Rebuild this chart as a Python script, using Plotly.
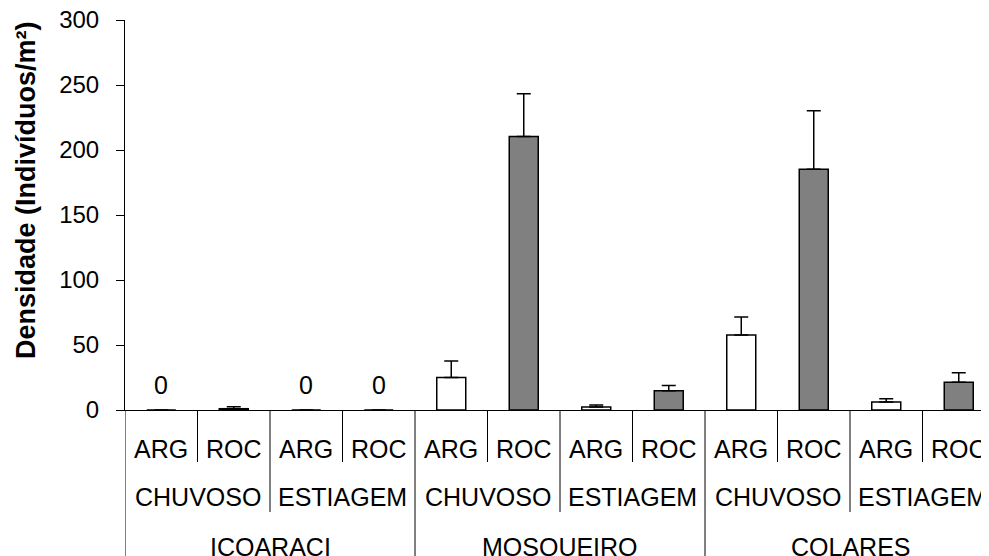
import plotly.graph_objects as go

sites = ["ICOARACI", "MOSQUEIRO", "COLARES"]
seasons = ["CHUVOSO", "ESTIAGEM"]
substrates = ["ARG", "ROC"]

# order: (ICOARACI,CHUVOSO),(ICOARACI,ESTIAGEM),(MOSQUEIRO,CHUVOSO),...
arg_values = [0, 0, 25, 2.3, 57.7, 6.2]
arg_err = [0, 0, 12.7, 1.5, 13.8, 2.5]
roc_values = [1, 0, 210.3, 14.9, 185.1, 21.3]
roc_err = [1.5, 0, 33, 4, 45, 7.4]

y_ticks = [0, 50, 100, 150, 200, 250, 300]
y_title = "Densidade (Indivíduos/m²)"

FONT = "Liberation Sans, Arial, sans-serif"
OFF = 8  # default page body margin
PAGE_W, PAGE_H = 989, 556
W, H = PAGE_W - OFF, PAGE_H - OFF
# plot area in page pixels: left 125, top 20, bottom 410, right 989
ML, MR, MT, MB = 125 - OFF, 0, 20 - OFF, PAGE_H - 410
plot_w = W - ML - MR
plot_h = H - MT - MB
cat_px = 72.5
x_max = -0.5 + plot_w / cat_px

n_groups = len(arg_values)
arg_x = [2 * i for i in range(n_groups)]
roc_x = [2 * i + 1 for i in range(n_groups)]

def py(pix):
    """page pixel y (from top) -> paper coordinate"""
    return (410 - pix) / plot_h

def px(pix):
    return (pix - 125) / plot_w

fig = go.Figure()
fig.add_trace(go.Bar(
    x=arg_x, y=arg_values, width=0.4, name="ARG",
    marker=dict(color="white", line=dict(color="black", width=1.5)),
    error_y=dict(type="data", symmetric=False, array=arg_err,
                 arrayminus=[0] * n_groups, color="black", thickness=1.5, width=7),
))
fig.add_trace(go.Bar(
    x=roc_x, y=roc_values, width=0.4, name="ROC",
    marker=dict(color="#808080", line=dict(color="black", width=1.5)),
    error_y=dict(type="data", symmetric=False, array=roc_err,
                 arrayminus=[0] * n_groups, color="black", thickness=1.5, width=7),
))

annotations = []
shapes = []
LBL = 25

# zero value labels
for xs, vals in ((arg_x, arg_values), (roc_x, roc_values)):
    for x, v in zip(xs, vals):
        if v == 0:
            annotations.append(dict(x=x, y=v, xref="x", yref="y", text=str(v),
                                    showarrow=False, yshift=25,
                                    font=dict(size=LBL, family=FONT, color="black")))

# category labels
lvl1_y, lvl2_y, lvl3_y = py(449), py(497), py(547)
for s_i, site in enumerate(sites):
    for se_i, season in enumerate(seasons):
        g = s_i * 2 + se_i
        for sub_i, sub in enumerate(substrates):
            annotations.append(dict(x=2 * g + sub_i, y=lvl1_y, xref="x", yref="paper",
                                    text=sub, showarrow=False, yanchor="middle",
                                    font=dict(size=LBL, family=FONT, color="black")))
        annotations.append(dict(x=2 * g + 0.5, y=lvl2_y, xref="x", yref="paper",
                                text=season, showarrow=False, yanchor="middle",
                                font=dict(size=LBL, family=FONT, color="black")))
    annotations.append(dict(x=4 * s_i + 1.5, y=lvl3_y, xref="x", yref="paper",
                            text=site, showarrow=False, yanchor="middle",
                            font=dict(size=LBL, family=FONT, color="black")))

# dividers
n_cat = 2 * n_groups
bottom = py(PAGE_H + 5)
shapes.append(dict(type="line", xref="x", yref="paper", x0=-0.5, x1=-0.5,
                   y0=0, y1=bottom, line=dict(color="black", width=1)))
for k in range(n_cat - 1):
    xb = k + 0.5
    if (k + 1) % 4 == 0:
        y1 = bottom
    elif (k + 1) % 2 == 0:
        y1 = py(512)
    else:
        y1 = py(462)
    shapes.append(dict(type="line", xref="x", yref="paper", x0=xb, x1=xb,
                       y0=0, y1=y1, line=dict(color="black", width=1)))

# y title
annotations.append(dict(x=px(26), y=py(190), xref="paper", yref="paper",
                        text="<b>" + y_title + "</b>", textangle=-90, showarrow=False,
                        xanchor="center", yanchor="middle",
                        font=dict(size=27, family=FONT, color="black")))

fig.update_layout(
    width=W, height=H,
    margin=dict(l=ML, r=MR, t=MT, b=MB, autoexpand=False),
    paper_bgcolor="white", plot_bgcolor="white",
    showlegend=False, barmode="overlay",
    annotations=annotations, shapes=shapes,
    font=dict(family=FONT, color="black"),
)
fig.update_xaxes(range=[-0.5, x_max], showline=True, linecolor="black", linewidth=1,
                 showticklabels=False, ticks="", showgrid=False, zeroline=False,
                 automargin=False)
fig.update_yaxes(range=[0, 300], tickvals=y_ticks, ticktext=[str(t) for t in y_ticks],
                 showline=True, linecolor="black", linewidth=1, ticks="outside",
                 ticklen=8, tickcolor="black", tickwidth=1, ticklabelstandoff=12,
                 ticklabeloverflow="allow",
                 tickfont=dict(size=24, family=FONT, color="black"),
                 showgrid=False, zeroline=False, automargin=False)

fig.write_html("out.html")
